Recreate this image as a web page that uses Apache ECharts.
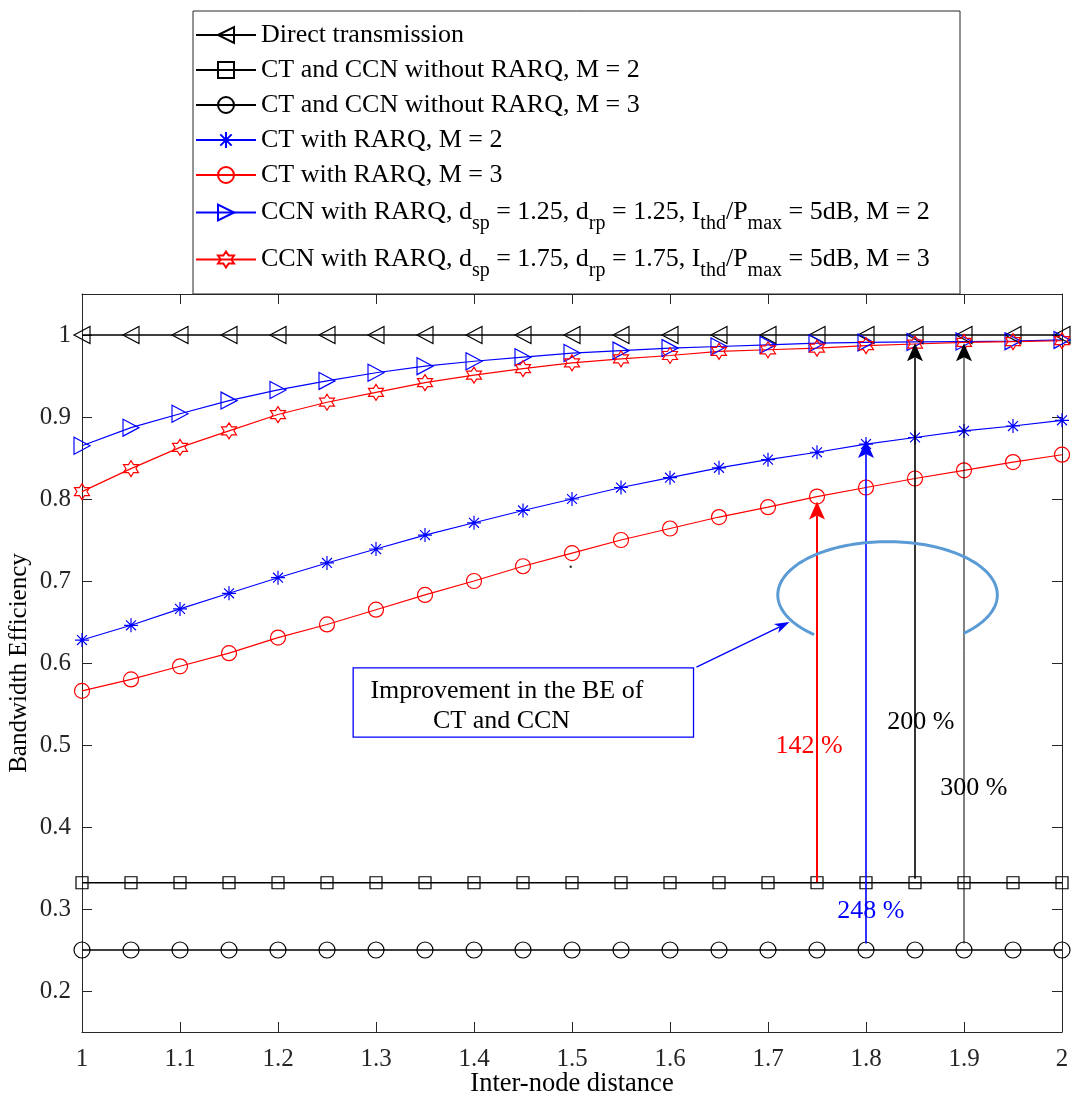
<!DOCTYPE html>
<html><head><meta charset="utf-8">
<script src="https://cdn.jsdelivr.net/npm/echarts@6/dist/echarts.min.js"></script>
<style>html,body{margin:0;padding:0;background:#fff}#c{width:1092px;height:1100px}</style>
</head><body><div id="c"></div>
<script>
// ---------------- data ----------------
const distances = [1, 1.05, 1.1, 1.15, 1.2, 1.25, 1.3, 1.35, 1.4, 1.45, 1.5, 1.55, 1.6, 1.65, 1.7, 1.75, 1.8, 1.85, 1.9, 1.95, 2];
const directTx = [1, 1, 1, 1, 1, 1, 1, 1, 1, 1, 1, 1, 1, 1, 1, 1, 1, 1, 1, 1, 1];
const ctCcnNoRarqM2 = [0.332, 0.332, 0.332, 0.332, 0.332, 0.332, 0.332, 0.332, 0.332, 0.332, 0.332, 0.332, 0.332, 0.332, 0.332, 0.332, 0.332, 0.332, 0.332, 0.332, 0.332];
const ctCcnNoRarqM3 = [0.25, 0.25, 0.25, 0.25, 0.25, 0.25, 0.25, 0.25, 0.25, 0.25, 0.25, 0.25, 0.25, 0.25, 0.25, 0.25, 0.25, 0.25, 0.25, 0.25, 0.25];
const ctRarqM2 = [0.628, 0.646, 0.666, 0.685, 0.704, 0.722, 0.739, 0.756, 0.771, 0.786, 0.800, 0.814, 0.826, 0.838, 0.848, 0.857, 0.867, 0.875, 0.883, 0.889, 0.896];
const ctRarqM3 = [0.566, 0.580, 0.596, 0.612, 0.631, 0.647, 0.665, 0.683, 0.700, 0.718, 0.734, 0.750, 0.764, 0.778, 0.790, 0.803, 0.814, 0.825, 0.835, 0.845, 0.854];
const ccnRarqM2 = [0.865, 0.887, 0.904, 0.920, 0.933, 0.944, 0.954, 0.962, 0.968, 0.973, 0.978, 0.981, 0.984, 0.986, 0.988, 0.990, 0.991, 0.9915, 0.992, 0.9925, 0.994];
const ccnRarqM3 = [0.809, 0.837, 0.863, 0.883, 0.903, 0.918, 0.930, 0.942, 0.951, 0.959, 0.966, 0.971, 0.975, 0.980, 0.982, 0.984, 0.987, 0.989, 0.991, 0.992, 0.993];

const seriesNames = [
  'Direct transmission',
  'CT and CCN without RARQ, M = 2',
  'CT and CCN without RARQ, M = 3',
  'CT with RARQ, M = 2',
  'CT with RARQ, M = 3',
  'CCN with RARQ, dsp = 1.25, drp = 1.25, Ithd/Pmax = 5dB, M = 2',
  'CCN with RARQ, dsp = 1.75, drp = 1.75, Ithd/Pmax = 5dB, M = 3'
];
const legendRich = [
  'Direct transmission',
  'CT and CCN without RARQ, M = 2',
  'CT and CCN without RARQ, M = 3',
  'CT with RARQ, M = 2',
  'CT with RARQ, M = 3',
  'CCN with RARQ, d{s|sp} = 1.25, d{s|rp} = 1.25, I{s|thd}/P{s|max} = 5dB, M = 2',
  'CCN with RARQ, d{s|sp} = 1.75, d{s|rp} = 1.75, I{s|thd}/P{s|max} = 5dB, M = 3'
];
const xTicks = [1, 1.1, 1.2, 1.3, 1.4, 1.5, 1.6, 1.7, 1.8, 1.9, 2];
const yTicks = [0.2, 0.3, 0.4, 0.5, 0.6, 0.7, 0.8, 0.9, 1];

// annotations (data coordinates)
const arrowX = [1.75, 1.8, 1.85, 1.9];
const arrowFrom = [0.333, 0.258, 0.337, 0.258];
const arrowTo = [0.797, 0.872, 0.990, 0.990];
const pctLabels = ['142 %', '248 %', '200 %', '300 %'];
const pctLabelX = [1.742, 1.805, 1.856, 1.910];
const pctLabelY = [0.498, 0.297, 0.528, 0.447];
const ellipse = [1.822, 0.683, 0.112, 0.065];       // cx, cy, rx, ry
const noteBox = [1.2767, 0.594, 1.624, 0.5095];     // x0, y0(top), x1, y1(bottom)
const noteLines = ['Improvement in the BE of', 'CT and CCN'];
const noteLineX = [1.4336, 1.4281];
const noteLineY = [0.5657, 0.529];
const pointer = [1.627, 0.595, 1.722, 0.650];       // from, to
const strayDot = [1.4987, 0.7173];

// ---------------- styles ----------------
const FONT = 'Liberation Serif, Times New Roman, serif';
const arrowColors = ['#ff0000', '#0000ff', '#000000', '#000000'];
const arrowWidths = [2, 1.6, 1.6, 1];
const AX = '#262626';
const asteriskPath = 'path://M0,-10L0,10M-10,0L10,0M-7.07,-7.07L7.07,7.07M-7.07,7.07L7.07,-7.07';
const hexagramPath = 'path://M0,-10L2.887,-5L8.66,-5L5.774,0L8.66,5L2.887,5L0,10L-2.887,5L-8.66,5L-5.774,0L-8.66,-5L-2.887,-5Z';

function pairs(ys) { return distances.map((x, i) => [x, ys[i]]); }

function lineSeries(name, ys, color, symbol, size, rotate, lw) {
  return {
    name, type: 'line', data: pairs(ys), symbol, symbolSize: size, symbolRotate: rotate,
    showAllSymbol: true, animation: false, silent: true,
    lineStyle: { color, width: lw },
    itemStyle: { color: 'rgba(0,0,0,0)', borderColor: color, borderWidth: 1.2 },
    emphasis: { disabled: true }
  };
}

const chart = echarts.init(document.getElementById('c'), null, { renderer: 'canvas' });

const series = [
  lineSeries(seriesNames[0], directTx, '#000000', 'triangle', [17, 16], 90, 1.3),
  lineSeries(seriesNames[1], ctCcnNoRarqM2, '#000000', 'rect', 12, 0, 1.6),
  lineSeries(seriesNames[2], ctCcnNoRarqM3, '#000000', 'circle', 16, 0, 1.6),
  lineSeries(seriesNames[3], ctRarqM2, '#0000ff', asteriskPath, 14, 0, 1.2),
  lineSeries(seriesNames[4], ctRarqM3, '#ff0000', 'circle', 15, 0, 1.2),
  lineSeries(seriesNames[5], ccnRarqM2, '#0000ff', 'triangle', [17, 16], -90, 1.2),
  lineSeries(seriesNames[6], ccnRarqM3, '#ff0000', hexagramPath, [15, 16], 0, 1.2),
  {
    type: 'custom', name: 'arrows', silent: true, animation: false, z: 5,
    data: arrowX.map((x, i) => [x, arrowFrom[i], arrowTo[i]]),
    encode: { x: 0, y: [1, 2] },
    renderItem(params, api) {
      const i = params.dataIndex;
      const p0 = api.coord([api.value(0), api.value(1)]);
      const p1 = api.coord([api.value(0), api.value(2)]);
      const c = arrowColors[i], hw = 8, hl = 18, notch = 4;
      return { type: 'group', children: [
        { type: 'line', shape: { x1: p0[0], y1: p0[1], x2: p1[0], y2: p1[1] + hl - notch }, style: { stroke: c, lineWidth: arrowWidths[i] } },
        { type: 'polygon', shape: { points: [[p1[0], p1[1]], [p1[0] - hw, p1[1] + hl], [p1[0], p1[1] + hl - notch], [p1[0] + hw, p1[1] + hl]] }, style: { fill: c } }
      ] };
    }
  },
  {
    type: 'custom', name: 'pct', silent: true, animation: false, z: 6,
    data: pctLabelX.map((x, i) => [x, pctLabelY[i]]),
    encode: { x: 0, y: 1 },
    renderItem(params, api) {
      const i = params.dataIndex;
      const p = api.coord([api.value(0), api.value(1)]);
      return { type: 'text', x: p[0], y: p[1], style: { text: pctLabels[i], fill: arrowColors[i], fontSize: 26, fontFamily: FONT, align: 'center', verticalAlign: 'middle' } };
    }
  },
  {
    type: 'custom', name: 'ellipse', silent: true, animation: false, z: 6,
    data: [ellipse],
    encode: { x: 0, y: 1 },
    renderItem(params, api) {
      const c = api.coord([api.value(0), api.value(1)]);
      const s = api.size([api.value(2), api.value(3)]);
      const pts = [];
      for (let a = 132; a <= 407; a += 2) {
        const t = a * Math.PI / 180;
        pts.push([c[0] + s[0] * Math.cos(t), c[1] + s[1] * Math.sin(t)]);
      }
      return { type: 'polyline', shape: { points: pts }, style: { stroke: '#5b9bd5', lineWidth: 3, fill: null } };
    }
  },
  {
    type: 'custom', name: 'note', silent: true, animation: false, z: 6,
    data: [noteBox],
    encode: { x: [0, 2], y: [1, 3] },
    renderItem(params, api) {
      const a = api.coord([api.value(0), api.value(1)]);
      const b = api.coord([api.value(2), api.value(3)]);
      const kids = [{ type: 'rect', shape: { x: a[0], y: a[1], width: b[0] - a[0], height: b[1] - a[1] }, style: { fill: '#fff', stroke: '#0000ff', lineWidth: 1.3 } }];
      noteLines.forEach((t, i) => {
        const p = api.coord([noteLineX[i], noteLineY[i]]);
        kids.push({ type: 'text', x: p[0], y: p[1], style: { text: t, fill: '#000', fontSize: 26, fontFamily: FONT, align: 'center', verticalAlign: 'middle' } });
      });
      return { type: 'group', children: kids };
    }
  },
  {
    type: 'custom', name: 'pointer', silent: true, animation: false, z: 6,
    data: [pointer],
    encode: { x: [0, 2], y: [1, 3] },
    renderItem(params, api) {
      const a = api.coord([api.value(0), api.value(1)]);
      const b = api.coord([api.value(2), api.value(3)]);
      const dx = b[0] - a[0], dy = b[1] - a[1], L = Math.hypot(dx, dy);
      const ux = dx / L, uy = dy / L, nx = -uy, ny = ux, hl = 15, hw = 5, notch = 4;
      const base = [b[0] - ux * hl, b[1] - uy * hl];
      const inner = [b[0] - ux * (hl - notch), b[1] - uy * (hl - notch)];
      return { type: 'group', children: [
        { type: 'line', shape: { x1: a[0], y1: a[1], x2: inner[0], y2: inner[1] }, style: { stroke: '#0000ff', lineWidth: 1.3 } },
        { type: 'polygon', shape: { points: [b, [base[0] + nx * hw, base[1] + ny * hw], inner, [base[0] - nx * hw, base[1] - ny * hw]] }, style: { fill: '#0000ff' } }
      ] };
    }
  },
  {
    type: 'scatter', name: 'dot', silent: true, animation: false, data: [strayDot],
    symbolSize: 2.5, itemStyle: { color: '#000' }
  }
];

function legendPart(names, top) {
  return {
    data: names, orient: 'vertical', left: 195, top, padding: 0, itemGap: 9,
    itemWidth: 60, itemHeight: 20, selectedMode: false, z: 10,
    formatter: (name) => legendRich[seriesNames.indexOf(name)],
    textStyle: {
      fontFamily: FONT, fontSize: 26, color: '#000',
      rich: { s: { fontFamily: FONT, fontSize: 20, color: '#000', padding: [22, 0, 0, 0] } }
    }
  };
}

const option = {
  backgroundColor: '#fff',
  animation: false,
  grid: { left: 82, right: 30, top: 294, bottom: 68, containLabel: false, outerBoundsMode: 'none' },
  graphic: [{
    type: 'rect', z: 1, shape: { x: 193, y: 11, width: 767, height: 283 },
    style: { fill: '#fff', stroke: AX, lineWidth: 1 }
  }],
  legend: [
    legendPart(seriesNames.slice(0, 5), 22),
    legendPart([seriesNames[5]], 199.5),
    legendPart([seriesNames[6]], 246.5)
  ],
  xAxis: [{
    type: 'value', min: 1, max: 2, interval: 0.1, position: 'bottom',
    name: 'Inter-node distance', nameLocation: 'middle', nameGap: 39, nameMoveOverlap: false,
    nameTextStyle: { fontFamily: FONT, fontSize: 26.5, color: '#000' },
    axisLine: { show: true, onZero: false, lineStyle: { color: AX, width: 1 } },
    axisTick: { show: true, inside: true, length: 10, lineStyle: { color: AX } },
    axisLabel: { fontFamily: FONT, fontSize: 25, color: AX, margin: 15, customValues: xTicks },
    splitLine: { show: false }
  }, {
    type: 'value', min: 1, max: 2, interval: 0.1, position: 'top',
    axisLine: { show: true, onZero: false, lineStyle: { color: AX, width: 1 } },
    axisTick: { show: true, inside: true, length: 10, lineStyle: { color: AX } },
    axisLabel: { show: false }, splitLine: { show: false }
  }],
  yAxis: [{
    type: 'value', min: 0.15, max: 1.05, position: 'left',
    name: 'Bandwidth Efficiency', nameLocation: 'middle', nameGap: 50, nameMoveOverlap: false,
    nameTextStyle: { fontFamily: FONT, fontSize: 25, color: '#000' },
    axisLine: { show: true, onZero: false, lineStyle: { color: AX, width: 1 } },
    axisTick: { show: true, inside: true, length: 10, lineStyle: { color: AX }, customValues: yTicks },
    axisLabel: { fontFamily: FONT, fontSize: 25, color: AX, margin: 11, customValues: yTicks, formatter: (v) => String(+v.toFixed(2)) },
    splitLine: { show: false }
  }, {
    type: 'value', min: 0.15, max: 1.05, position: 'right',
    axisLine: { show: true, onZero: false, lineStyle: { color: AX, width: 1 } },
    axisTick: { show: true, inside: true, length: 10, lineStyle: { color: AX }, customValues: yTicks },
    axisLabel: { show: false }, splitLine: { show: false }
  }],
  series
};
chart.setOption(option);
</script>
</body></html>
